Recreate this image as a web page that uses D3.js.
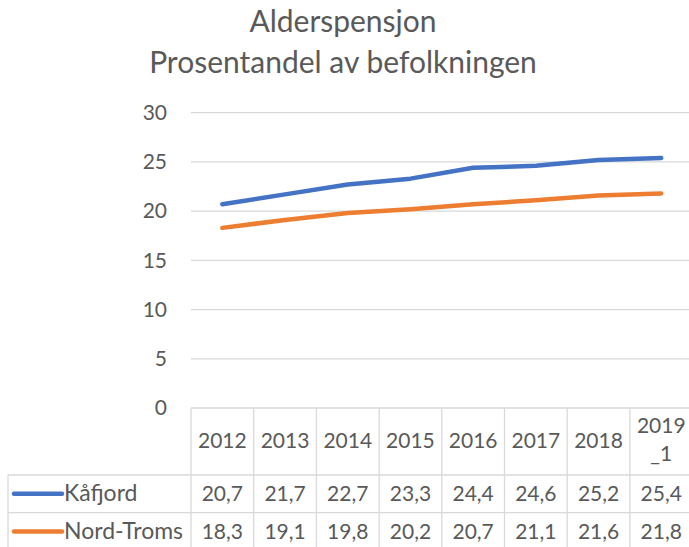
<!DOCTYPE html>
<html>
<head>
<meta charset="utf-8">
<script src="https://cdn.jsdelivr.net/npm/d3@7"></script>
<style>
  body { margin: 0; background: #fff; }
  svg { display: block; font-family: Lato, "Open Sans", sans-serif; }
</style>
</head>
<body>
<script>
const years = ["2012", "2013", "2014", "2015", "2016", "2017", "2018", "2019_1"]
const kafjord = [20.7, 21.7, 22.7, 23.3, 24.4, 24.6, 25.2, 25.4]
const nordTroms = [18.3, 19.1, 19.8, 20.2, 20.7, 21.1, 21.6, 21.8]
const yTicks = [0, 5, 10, 15, 20, 25, 30]
const titleLines = ["Alderspensjon", "Prosentandel av befolkningen"]

const series = [
  { name: "Kåfjord", values: kafjord, color: "#4472C4" },
  { name: "Nord-Troms", values: nordTroms, color: "#ED7D31" }
]

const width = 689
const height = 547
const grid = "#d9d9d9"
const textCol = "#595959"

const svg = d3.select("body").append("svg")
  .attr("width", width)
  .attr("height", height)

// title
svg.append("g").selectAll("text")
  .data(titleLines)
  .enter().append("text")
  .attr("x", 343)
  .attr("y", (d, i) => 32 + i * 41)
  .attr("text-anchor", "middle")
  .attr("font-size", 30)
  .attr("fill", textCol)
  .text(d => d)

const x = d3.scaleBand().domain(years).range([191, 191 + 8 * 62.7])
const y = d3.scaleLinear().domain([0, 30]).range([408, 112.7])

// gridlines
svg.append("g").selectAll("line")
  .data(yTicks.filter(d => d > 0))
  .enter().append("line")
  .attr("x1", 191).attr("x2", width)
  .attr("y1", d => y(d)).attr("y2", d => y(d))
  .attr("stroke", grid).attr("stroke-width", 1.3)

// y axis labels
const yAxis = svg.append("g")
  .attr("transform", "translate(167,0)")
  .call(d3.axisLeft(y).tickValues(yTicks).tickSize(0).tickPadding(0))
yAxis.select(".domain").remove()
yAxis.selectAll("text")
  .attr("font-family", "Lato, sans-serif")
  .attr("font-size", 21)
  .attr("fill", textCol)

// lines
const line = d3.line()
  .x((d, i) => x(years[i]) + x.bandwidth() / 2)
  .y(d => y(d))

svg.append("g").selectAll("path")
  .data(series)
  .enter().append("path")
  .attr("d", d => line(d.values))
  .attr("fill", "none")
  .attr("stroke", d => d.color)
  .attr("stroke-width", 4.5)
  .attr("stroke-linecap", "round")
  .attr("stroke-linejoin", "round")

// data table
const tTop = 408, hBottom = 475, rowH = 37.7, tLeft = 8
const tRight = x.range()[1]
const tbl = svg.append("g").attr("stroke", grid).attr("stroke-width", 1.3)

// horizontal lines
tbl.append("line").attr("x1", 191).attr("x2", tRight).attr("y1", tTop).attr("y2", tTop)
;[0, 1, 2].forEach(i => {
  const yy = hBottom + i * rowH
  tbl.append("line").attr("x1", tLeft).attr("x2", tRight).attr("y1", yy).attr("y2", yy)
})
// vertical lines
tbl.append("line").attr("x1", tLeft).attr("x2", tLeft).attr("y1", hBottom).attr("y2", height + 5)
tbl.selectAll(".v")
  .data(years.concat(["end"]))
  .enter().append("line")
  .attr("x1", (d, i) => 191 + i * x.bandwidth())
  .attr("x2", (d, i) => 191 + i * x.bandwidth())
  .attr("y1", tTop).attr("y2", height + 5)

// header labels (wrap "2019_1")
const head = svg.append("g").attr("font-size", 21).attr("fill", textCol).attr("text-anchor", "middle")
years.forEach(yr => {
  const cx = x(yr) + x.bandwidth() / 2
  const parts = yr.includes("_") ? [yr.split("_")[0], "_" + yr.split("_")[1]] : [yr]
  parts.forEach((p, i) => {
    head.append("text")
      .attr("x", cx)
      .attr("y", parts.length === 1 ? 448 : 433 + i * 28)
      .text(p)
  })
})

// value rows
series.forEach((s, si) => {
  const cy = hBottom + si * rowH + rowH / 2 + 7.5
  const g = svg.append("g").attr("font-size", 21).attr("fill", textCol)
  g.append("line")
    .attr("x1", 14).attr("x2", 62)
    .attr("y1", cy - 7.5).attr("y2", cy - 7.5)
    .attr("stroke", s.color).attr("stroke-width", 4.5).attr("stroke-linecap", "round")
  g.append("text").attr("x", 64).attr("y", cy).attr("font-size", 23).text(s.name)
  g.selectAll(".v")
    .data(s.values)
    .enter().append("text")
    .attr("x", (d, i) => x(years[i]) + x.bandwidth() / 2)
    .attr("y", cy)
    .attr("text-anchor", "middle")
    .text(d => d3.format(".1f")(d).replace(".", ","))
})
</script>
</body>
</html>
